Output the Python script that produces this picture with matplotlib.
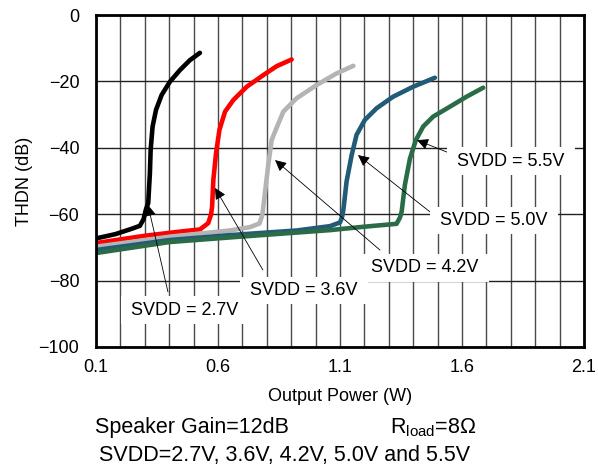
"""THD+N vs output power for several SVDD supply voltages."""

import matplotlib
matplotlib.use("Agg")
import matplotlib.pyplot as plt
import numpy as np

plt.rcParams['font.family'] = ['Liberation Sans', 'DejaVu Sans']
plt.rcParams['mathtext.fontset'] = 'custom'
plt.rcParams['mathtext.rm'] = 'Liberation Sans'

# curves (output power W, THDN dB)
x_27 = [0.1, 0.18, 0.25, 0.28, 0.295, 0.305, 0.314, 0.321, 0.324, 0.332, 0.346, 0.369, 0.403, 0.444, 0.485, 0.526]
y_27 = [-67.3, -66.0, -64.3, -63.5, -61.5, -58.5, -56.7, -47.7, -40.7, -33.6, -28.6, -24.1, -20.1, -16.6, -13.6, -11.4]

x_36 = [0.1, 0.3, 0.45, 0.526, 0.56, 0.572, 0.576, 0.581, 0.592, 0.606, 0.629, 0.663, 0.718, 0.786, 0.841, 0.902]
y_36 = [-68.7, -66.5, -65.2, -64.6, -62.7, -60.0, -57.7, -49.7, -41.7, -34.6, -29.1, -25.6, -21.6, -18.1, -15.4, -13.4]

x_42 = [0.1, 0.4, 0.649, 0.731, 0.77, 0.782, 0.786, 0.806, 0.82, 0.834, 0.868, 0.922, 1.004, 1.086, 1.155]
y_42 = [-69.8, -66.8, -64.9, -63.9, -62.8, -60.2, -57.7, -45.2, -37.7, -35.1, -29.1, -25.1, -21.1, -17.6, -15.3]

x_50 = [0.1, 0.4, 0.649, 0.924, 1.059, 1.1, 1.108, 1.114, 1.127, 1.148, 1.168, 1.202, 1.25, 1.318, 1.40, 1.489]
y_50 = [-70.8, -67.8, -66.3, -64.9, -63.6, -62.5, -61.0, -58.7, -50.2, -42.2, -36.1, -31.6, -28.1, -24.6, -21.6, -18.9]

x_55 = [0.1, 0.4, 0.649, 1.059, 1.195, 1.332, 1.346, 1.353, 1.366, 1.387, 1.411, 1.441, 1.482, 1.551, 1.619, 1.687]
y_55 = [-71.7, -68.4, -67.0, -64.8, -63.8, -62.9, -61.0, -59.2, -51.2, -43.2, -37.7, -33.6, -30.6, -27.6, -24.6, -21.9]

labels = ["SVDD = 2.7V", "SVDD = 3.6V", "SVDD = 4.2V", "SVDD = 5.0V", "SVDD = 5.5V"]
colors = ["#000000", "#ff0000", "#b4b4b4", "#225b78", "#2a6c48"]

# where each label sits, where its arrow starts and where it points
label_pos = [(0.465, -88.9), (0.952, -83.0), (1.448, -76.1), (1.731, -61.9), (1.80, -44.1)]
arrow_from = [(0.395, -83.4), (0.784, -76.8), (1.264, -70.8), (1.469, -59.3), (1.539, -41.3)]
arrow_to = [(0.313, -57.2), (0.588, -52.1), (0.834, -43.7), (1.174, -42.2), (1.416, -37.7)]

fig = plt.figure(figsize=(5.98, 4.66), dpi=100)
ax = fig.add_axes([0.1605, 0.2554, 0.816, 0.7124])

ax.set_xlim(0.1, 2.1)
ax.set_ylim(-100, 0)
ax.set_xticks(np.arange(0.1, 2.11, 0.5))
ax.set_xticklabels(["0.1", "0.6", "1.1", "1.6", "2.1"])
ax.set_xticks(np.arange(0.1, 2.11, 0.1), minor=True)
ax.set_yticks(np.arange(-100, 1, 20))
ax.set_yticklabels(["\u2212100", "\u221280", "\u221260", "\u221240", "\u221220", "0"])
ax.tick_params(axis="both", which="both", length=0, labelsize=13, pad=9)
ax.tick_params(axis="y", pad=12)

ax.grid(True, axis="x", which="both", color="#4a4a4a", lw=1.0, zorder=0)
ax.grid(True, axis="y", which="major", color="#222222", lw=1.0, zorder=0)
ax.set_axisbelow(True)
for s in ax.spines.values():
    s.set_linewidth(2.0)
    s.set_zorder(10)

series = [(x_27, y_27), (x_36, y_36), (x_42, y_42), (x_50, y_50), (x_55, y_55)]
for (xs, ys), c in zip(series, colors):
    ax.plot(xs, ys, color=c, lw=3.3, solid_capstyle="round", solid_joinstyle="round", zorder=3)

for lab, tp, a0, a1 in zip(labels, label_pos, arrow_from, arrow_to):
    ax.annotate("", xy=a1, xytext=a0,
                arrowprops=dict(arrowstyle="-|>", color="black", lw=0.6,
                                mutation_scale=17, shrinkA=0, shrinkB=0),
                zorder=4)
    ax.text(tp[0], tp[1], " " + lab + " ", ha="center", va="center", fontsize=13,
            bbox=dict(boxstyle="square,pad=0.3", fc="white", ec="none"), zorder=5)

ax.set_xlabel("Output Power (W)", fontsize=13, labelpad=8)
ax.set_ylabel("THDN (dB)", fontsize=13, labelpad=4)

fig.text(95 / 598, 1 - 428 / 466, "Speaker Gain=12dB", fontsize=15.5, va="center")
fig.text(390 / 598, 1 - 428 / 466, "R$_{\\mathrm{load}}$=8\u03a9", fontsize=15.5, va="center")
fig.text(99 / 598, 1 - 456 / 466, "SVDD=2.7V, 3.6V, 4.2V, 5.0V and 5.5V", fontsize=15.5, va="center")

fig.savefig("out.png", dpi=100)
